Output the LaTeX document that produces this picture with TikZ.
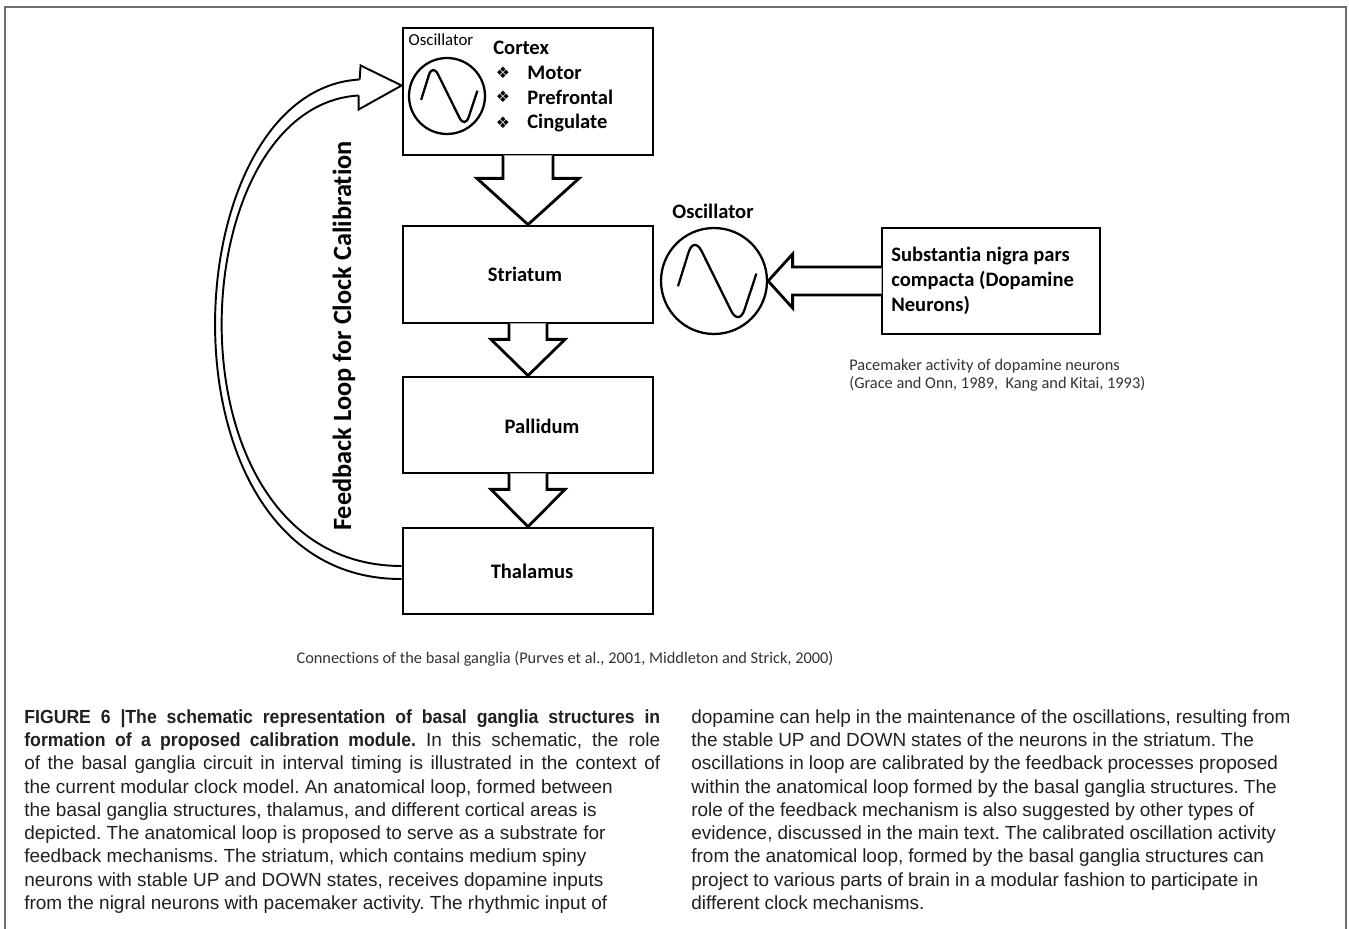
\documentclass[tikz,border=0pt]{standalone}
\usepackage{fontspec}
\setmainfont{Carlito}[Ligatures=NoCommon]
\newfontfamily\capfont[BoldFeatures={FakeStretch=0.93}]{Liberation Sans}
\newfontfamily\symfont{DejaVu Sans}
\usetikzlibrary{calc}
\frenchspacing
\definecolor{bgFrame}{HTML}{6E6E6E}
\definecolor{bgText}{HTML}{231F20}
\definecolor{bgNote}{HTML}{333333}
\tikzset{
  bg box/.style={draw=black, line width=1.6pt, inner sep=0pt},
  bg label/.style={font=\fontsize{11.7}{14.2}\selectfont\bfseries, text=black, inner sep=0pt},
  bg small/.style={font=\fontsize{9.6}{11}\selectfont, text=black, inner sep=0pt},
  bg bullet/.style={font=\symfont\fontsize{9}{9}\selectfont, text=black, inner sep=0pt},
  bg osc/.style={circle, draw=black, line width=1.3pt, inner sep=0pt},
  bg wave/.style={draw=black, line width=1.3pt},
  bg flow/.style={draw=black, line width=1.6pt, fill=white},
  bg loop/.style={draw=black, line width=1.1pt},
  bg note/.style={font=\fontsize{9.3}{10.3}\selectfont, text=bgNote, align=left, inner sep=0pt},
  bg caption/.style={font=\capfont\fontsize{10.8}{13.27}\selectfont, text=bgText, inner sep=0pt},
  pics/bgwave/.style={code={
    \draw[bg wave, rounded corners=#1] (-0.68,0.1) -- (-0.38,-0.86) -- (0.47,0.86) -- (0.8,-0.14);
  }},
}
% block arrow from the bottom of one box to the top of the next
\newcommand\blockdown[5]{%
  \path[bg flow] ($(#1.south)+(-#3,-1)$) -- ($(#1.south)+(-#3,#5)$)
    -- ($(#1.south)+(-#4,#5)$) -- (#2.north) -- ($(#1.south)+(#4,#5)$)
    -- ($(#1.south)+(#3,#5)$) -- ($(#1.south)+(#3,-1)$);
}

\begin{document}
\begin{tikzpicture}[x=0.02cm,y=-0.02cm]
  \useasboundingbox (0,0) rectangle (1349,929);
  \draw[bgFrame, line width=1.2pt] (5,935) -- (5,7) -- (1346,7) -- (1346,935);

  % main loop
  \node[bg box, minimum width=5cm, minimum height=2.54cm] (cortex) at (528,91.5) {};
  \node[bg box, minimum width=5cm, minimum height=1.94cm] (striatum) at (528,274.5) {};
  \node[bg box, minimum width=5cm, minimum height=1.92cm] (pallidum) at (528,425) {};
  \node[bg box, minimum width=5cm, minimum height=1.72cm] (thalamus) at (528,571) {};
  \node[bg label] (striatumlbl) at ($(striatum.center)+(-3,0)$) {Striatum};
  \node[bg label] (pallidumlbl) at ($(pallidum.center)+(14,1)$) {Pallidum};
  \node[bg label] (thalamuslbl) at ($(thalamus.center)+(4,0)$) {Thalamus};

  \blockdown{cortex}{striatum}{25}{51}{22}
  \blockdown{striatum}{pallidum}{19}{37}{15}
  \blockdown{pallidum}{thalamus}{19}{37}{15}

  % cortex content
  \node[bg osc, minimum size=1.52cm] (osc1) at (447,96) {};
  \pic[scale=38] at (osc1) {bgwave=7pt};
  \node[bg small] (osc1lbl) at (441,40) {Oscillator};
  \node[bg label, anchor=west] (cortexlbl) at (493,48) {Cortex};
  \foreach \y/\t [count=\i] in {73/Motor,97/Prefrontal,123/Cingulate} {
    \node[bg bullet] (bullet\i) at (503,\y) {❖};
    \node[bg label, anchor=west] (item\i) at (527,\y) {\t};
  }

  % feedback loop
  \coordinate (fbtip) at ($(cortex.west)+(0,-6)$);
  \coordinate (fbout) at ($(fbtip)+(-42,-6)$);
  \coordinate (fbin) at ($(fbtip)+(-43,10)$);
  \draw[bg loop] ($(thalamus.west)+(0,8)$) .. controls (150,580) and (170,90) .. (fbout);
  \draw[bg loop] ($(thalamus.west)+(0,-5)$) .. controls (160,566) and (178,106) .. (fbin);
  \path[bg loop, fill=white] (fbout) -- ($(fbtip)+(-41,-20)$) -- (fbtip)
    -- ($(fbtip)+(-43,24)$) -- (fbin);
  \node[bg label, font=\fontsize{15}{16}\selectfont\bfseries, rotate=90] (fblbl) at (344,336)
    {Feedback Loop for Clock Calibration};

  % dopamine input
  \node[bg osc, minimum size=2.12cm] (osc2) at (714,281) {};
  \pic[scale=53] at (osc2) {bgwave=10pt};
  \node[bg label] (osc2lbl) at (713,211) {Oscillator};
  \node[bg box, minimum width=4.36cm, minimum height=2.12cm] (snc) at (991,281) {};
  \node[bg label, anchor=west, align=left] (snclbl) at (891,281)
    {Substantia nigra pars\\compacta (Dopamine\\Neurons)};
  \path[bg flow] ($(snc.west)+(1,-14)$) -- ($(snc.west)+(-88,-14)$) -- ($(snc.west)+(-88,-27)$)
    -- (osc2.east) -- ($(snc.west)+(-88,27)$) -- ($(snc.west)+(-88,14)$) -- ($(snc.west)+(1,14)$);
  \node[bg note, anchor=west] (sncnote) at (849,375)
    {Pacemaker activity of dopamine neurons\\(Grace and Onn, 1989,~ Kang and Kitai, 1993)};
  \node[bg note] (connnote) at (565,659)
    {Connections of the basal ganglia (Purves et al., 2001, Middleton and Strick, 2000)};

  % caption
  \node[bg caption, anchor=north west, text width=12.72cm, align=justify] (capleft) at (24,709)
    {\textbf{FIGURE 6 {|}The schematic representation of basal ganglia structures in}\linebreak
     \textbf{formation of a proposed calibration module.} In this schematic, the role\linebreak
     of the basal ganglia circuit in interval timing is illustrated in the context of\linebreak
     the current modular clock model. An anatomical loop, formed between\newline
     the basal ganglia structures, thalamus, and different cortical areas is\newline
     depicted. The anatomical loop is proposed to serve as a substrate for\newline
     feedback mechanisms. The striatum, which contains medium spiny\newline
     neurons with stable UP and DOWN states, receives dopamine inputs\newline
     from the nigral neurons with pacemaker activity. The rhythmic input of};
  \node[bg caption, anchor=north west, text width=13.2cm, align=left] (capright) at (691,709)
    {\spaceskip=0.94\fontdimen2\font plus 0.1em
     dopamine can help in the maintenance of the oscillations, resulting from\\
     the stable UP and DOWN states of the neurons in the striatum. The\\
     oscillations in loop are calibrated by the feedback processes proposed\\
     within the anatomical loop formed by the basal ganglia structures. The\\
     role of the feedback mechanism is also suggested by other types of\\
     evidence, discussed in the main text. The calibrated oscillation activity\\
     from the anatomical loop, formed by the basal ganglia structures can\\
     project to various parts of brain in a modular fashion to participate in\\
     different clock mechanisms.};
\end{tikzpicture}
\end{document}
